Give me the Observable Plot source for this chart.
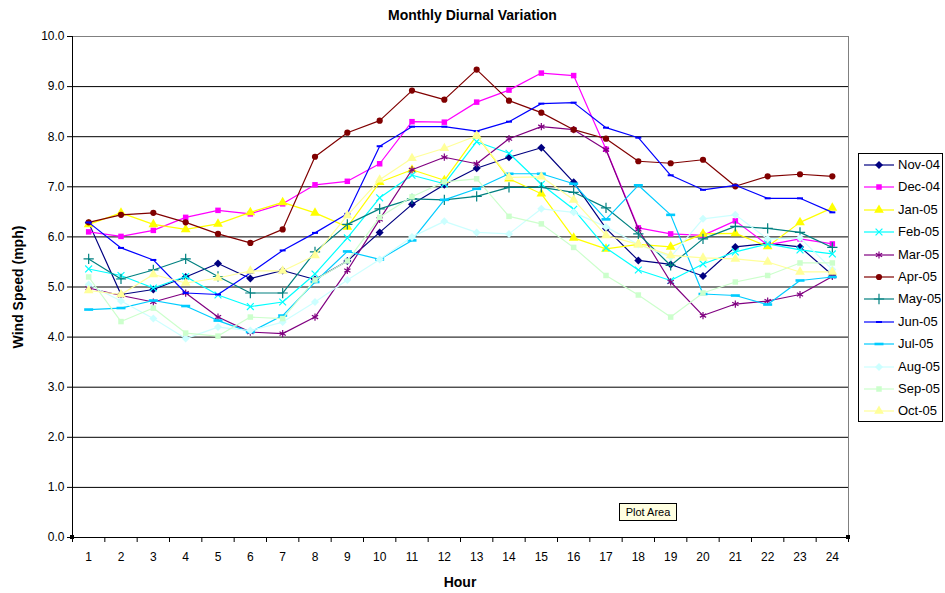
<!DOCTYPE html>
<html>
<head>
<meta charset="utf-8">
<script src="https://cdn.jsdelivr.net/npm/d3@7"></script>
<script src="https://cdn.jsdelivr.net/npm/@observablehq/plot@0.6"></script>
<style>
  html, body { margin: 0; padding: 0; background: #fff; }
  #wrap { position: relative; width: 945px; height: 593px; font-family: "Liberation Sans", Arial, sans-serif; color: #000; overflow: hidden; }
  #chart { position: absolute; left: 0; top: 0; }
  .lbl { position: absolute; font-weight: bold; white-space: nowrap; }
  #legend { position: absolute; left: 858px; top: 153px; width: 85px; height: 269px; border: 1px solid #000; background: #fff; box-sizing: border-box; }
  .lrow { position: absolute; left: 0; height: 16px; }
  .lrow span { position: absolute; left: 39px; top: 0; font-size: 13px; line-height: 16px; }
  #tip { position: absolute; left: 619px; top: 503px; width: 58px; height: 18px; box-sizing: border-box; border: 1px solid #000; background: #ffffe1; font-size: 11px; line-height: 16px; text-align: center; }
  .handle { position: absolute; width: 4px; height: 4px; background: #000; }
</style>
</head>
<body>
<div id="wrap">
  <div id="chart"></div>
  <div class="lbl" id="title" style="left:0;width:945px;top:7px;text-align:center;font-size:14px;">Monthly Diurnal Variation</div>
  <div class="lbl" id="ylab" style="font-size:14px;left:18px;top:287px;transform:translate(-50%,-50%) rotate(-90deg);">Wind Speed (mph)</div>
  <div class="lbl" id="xlab" style="font-size:14px;left:460px;top:582px;transform:translate(-50%,-50%);">Hour</div>
  <div id="legend"></div>
  <div id="tip">Plot Area</div>
  <div class="handle" style="left:70px;top:535px"></div>
  <div class="handle" style="left:846px;top:535px"></div>
</div>
<script>
// ---- data ----
const hours = [1,2,3,4,5,6,7,8,9,10,11,12,13,14,15,16,17,18,19,20,21,22,23,24];
const yTicks = [0,1,2,3,4,5,6,7,8,9,10];
const seriesNames = ["Nov-04","Dec-04","Jan-05","Feb-05","Mar-05","Apr-05","May-05","Jun-05","Jul-05","Aug-05","Sep-05","Oct-05"];

const nov04 = [6.28,4.85,4.95,5.20,5.47,5.17,5.33,5.15,5.52,6.09,6.65,7.04,7.37,7.59,7.78,7.09,6.17,5.53,5.45,5.22,5.80,5.87,5.80,5.24];
const dec04 = [6.10,6.01,6.13,6.39,6.53,6.46,6.66,7.04,7.11,7.46,8.30,8.29,8.69,8.93,9.27,9.22,7.75,6.18,6.06,6.03,6.32,5.84,5.96,5.86];
const jan05 = [6.25,6.48,6.25,6.15,6.26,6.49,6.69,6.48,6.20,7.09,7.34,7.13,8.02,7.16,6.86,5.98,5.76,5.85,5.80,6.06,6.07,5.81,6.29,6.58];
const feb05 = [5.36,5.23,4.98,5.21,4.84,4.61,4.70,5.26,5.98,6.78,7.23,7.06,7.90,7.67,7.05,6.55,5.78,5.34,5.13,5.46,5.70,5.86,5.74,5.66];
const mar05 = [4.98,4.83,4.70,4.88,4.40,4.10,4.07,4.40,5.33,6.35,7.34,7.59,7.46,7.96,8.20,8.14,7.74,6.15,5.10,4.43,4.66,4.72,4.85,5.21];
const apr05 = [6.29,6.44,6.48,6.29,6.06,5.88,6.15,7.60,8.08,8.32,8.92,8.74,9.34,8.72,8.48,8.14,7.96,7.51,7.47,7.54,7.01,7.21,7.25,7.21];
const may05 = [5.56,5.16,5.34,5.56,5.21,4.88,4.88,5.70,6.25,6.56,6.76,6.74,6.81,6.99,6.99,6.89,6.58,6.06,5.43,5.96,6.21,6.17,6.09,5.79];
const jun05 = [6.29,5.78,5.54,4.88,4.85,5.28,5.73,6.08,6.46,7.81,8.20,8.20,8.11,8.30,8.66,8.68,8.18,7.98,7.23,6.94,7.03,6.77,6.77,6.49];
const jul05 = [4.55,4.58,4.73,4.62,4.33,4.10,4.43,5.10,5.71,5.55,5.93,6.74,6.96,7.26,7.26,7.06,6.35,7.03,6.44,4.86,4.83,4.65,5.13,5.20];
const aug05 = [5.05,4.72,4.37,3.97,4.20,4.13,4.30,4.70,5.14,5.55,6.00,6.31,6.09,6.06,6.56,6.49,6.20,5.85,5.60,6.36,6.44,5.96,5.98,5.35];
const sep05 = [5.20,4.31,4.58,4.08,4.02,4.40,4.37,5.14,5.52,6.39,6.80,7.10,7.16,6.41,6.26,5.79,5.23,4.84,4.40,4.88,5.10,5.23,5.48,5.48];
const oct05 = [4.93,4.85,5.25,5.08,5.18,5.32,5.32,5.63,6.43,7.14,7.57,7.77,8.02,7.19,7.20,6.74,6.03,5.85,5.63,5.58,5.56,5.50,5.30,5.30];

const seriesValues = [nov04,dec04,jan05,feb05,mar05,apr05,may05,jun05,jul05,aug05,sep05,oct05];
const seriesColors = ["#000080","#FF00FF","#FFFF00","#00FFFF","#800080","#800000","#008080","#0000FF","#00CCFF","#CCFFFF","#CCFFCC","#FFFF99"];

// ---- marker shapes (Excel-like) ----
const dashShort = { draw(ctx) { ctx.moveTo(-3,-1); ctx.lineTo(3,-1); ctx.lineTo(3,1); ctx.lineTo(-3,1); ctx.closePath(); } };
const dashLong  = { draw(ctx) { ctx.moveTo(-4.5,-1.3); ctx.lineTo(4.5,-1.3); ctx.lineTo(4.5,1.3); ctx.lineTo(-4.5,1.3); ctx.closePath(); } };
// [symbol, filled]
const markers = [
  ["diamond2", true], ["square", true], ["triangle", true], ["times", false],
  ["asterisk", false], ["circle", true], ["plus", false], [dashShort, true],
  [dashLong, true], ["diamond2", true], ["square", true], ["triangle", true]
];
const markerR = [3.6, 3.1, 3.6, 3.2, 3.4, 3.1, 3.4, 3, 3, 3.6, 3.1, 3.6];

const rows = [];
seriesNames.forEach((name, i) => {
  seriesValues[i].forEach((v, j) => rows.push({series: name, idx: i, hour: hours[j], value: v}));
});

const marks = [
  Plot.ruleY(yTicks.filter(d => d > 0 && d < 10), {stroke: "#000", strokeWidth: 1}),
  Plot.ruleY([10], {stroke: "#808080", strokeWidth: 1}),
  Plot.ruleX([24.5], {stroke: "#808080", strokeWidth: 1}),
  Plot.axisY(yTicks, {tickSize: 5, tickPadding: 3, tickFormat: d3.format(".1f"), label: null, fontSize: 12, stroke: "#000"}),
  Plot.axisX(d3.range(0.5, 25, 1), {tickSize: 5, tickFormat: () => "", label: null, stroke: "#000"}),
  Plot.axisX(hours, {tickSize: 0, tickPadding: 15, tickFormat: d => String(d), label: null, fontSize: 12})
];

seriesNames.forEach((name, i) => {
  const data = rows.filter(d => d.idx === i);
  const [sym, filled] = markers[i];
  marks.push(Plot.line(data, {x: "hour", y: "value", stroke: seriesColors[i], strokeWidth: 1.2}));
  marks.push(Plot.dot(data, {
    x: "hour", y: "value", symbol: sym, r: markerR[i],
    fill: filled ? seriesColors[i] : "none",
    stroke: filled ? "none" : seriesColors[i],
    strokeWidth: filled ? 0 : 1.2
  }));
});

marks.push(Plot.ruleX([0.5], {stroke: "#000", strokeWidth: 1}));
marks.push(Plot.ruleY([0], {stroke: "#000", strokeWidth: 1}));

const chart = Plot.plot({
  width: 945,
  height: 593,
  marginLeft: 72,
  marginRight: 97,
  marginTop: 36,
  marginBottom: 56,
  x: {type: "linear", domain: [0.5, 24.5], label: null, axis: null},
  y: {type: "linear", domain: [0, 10], label: null, axis: null},
  style: {fontFamily: "'Liberation Sans', Arial, sans-serif", fontSize: "12px", color: "#000", background: "transparent"},
  marks
});
document.getElementById("chart").appendChild(chart);

// ---- legend ----
const legend = d3.select("#legend");
const symMap = {diamond2: d3.symbolDiamond2, square: d3.symbolSquare, triangle: d3.symbolTriangle, times: d3.symbolTimes, asterisk: d3.symbolAsterisk, circle: d3.symbolCircle, plus: d3.symbolPlus};
seriesNames.forEach((name, i) => {
  const cy = 165 + i * 22.4 - 153;
  const row = legend.append("div").attr("class", "lrow").style("top", (cy - 8 - 1) + "px").style("width", "84px");
  const svg = row.append("svg").attr("width", 38).attr("height", 16).style("position", "absolute").style("left", "0px").style("top", "0px");
  svg.append("line").attr("x1", 5).attr("x2", 35).attr("y1", 8).attr("y2", 8).attr("stroke", seriesColors[i]).attr("stroke-width", 1.2);
  const [sym, filled] = markers[i];
  const type = typeof sym === "string" ? symMap[sym] : sym;
  const r = markerR[i];
  svg.append("path").attr("d", d3.symbol(type, Math.PI * r * r)()).attr("transform", "translate(20,8)")
    .attr("fill", filled ? seriesColors[i] : "none").attr("stroke", filled ? "none" : seriesColors[i]).attr("stroke-width", 1.2);
  row.append("span").text(name);
});
</script>
</body>
</html>
